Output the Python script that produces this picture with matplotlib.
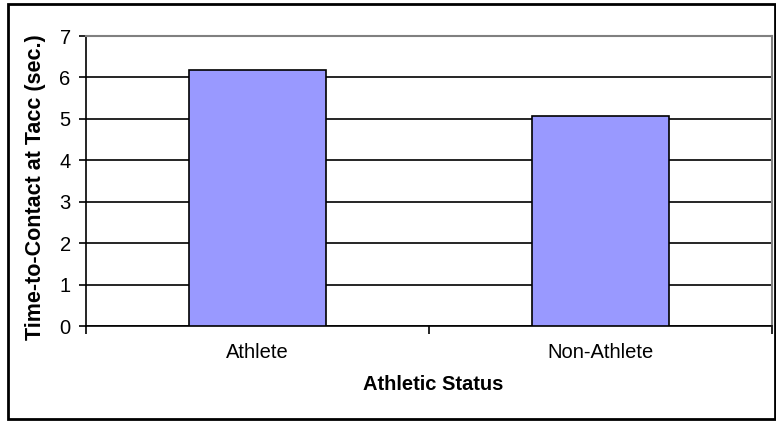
import matplotlib
matplotlib.use("Agg")
import matplotlib.pyplot as plt
import matplotlib.patches as mpatches

categories = ["Athlete", "Non-Athlete"]
values = [6.18, 5.07]
y_ticks = [0, 1, 2, 3, 4, 5, 6, 7]

plt.rcParams["font.family"] = ["Liberation Sans", "DejaVu Sans"]

W, H = 776, 421
fig = plt.figure(figsize=(W / 100, H / 100), dpi=100)

# outer chart border
fig.patches.append(mpatches.Rectangle((8 / W, 2 / H), 767 / W, 415 / H,
                                      transform=fig.transFigure, fill=False,
                                      edgecolor="black", linewidth=2))

ax = fig.add_axes([86 / W, (H - 326) / H, (772 - 86) / W, (326 - 36) / H])

x = list(range(len(categories)))
ax.bar(x, values, width=0.4, color="#9999FF", edgecolor="black",
       linewidth=1.2, zorder=3)

ax.set_xlim(-0.5, len(categories) - 0.5)
ax.set_ylim(0, 7)
ax.set_yticks(y_ticks)
ax.yaxis.grid(True, color="black", linewidth=1.2, zorder=0)
ax.set_axisbelow(True)

# category boundaries get the tick marks, labels sit in the middle
ax.set_xticks([-0.5, 0.5, 1.5])
ax.set_xticklabels([])
ax.set_xticks(x, minor=True)
ax.set_xticklabels(categories, minor=True)
ax.tick_params(axis="x", which="minor", length=0, labelsize=14.5, pad=12)
ax.tick_params(axis="x", which="major", length=6, width=1.2, direction="out")
ax.tick_params(axis="y", length=5, width=1.2, direction="out", labelsize=14.5,
               pad=6)

for side in ["left", "bottom"]:
    ax.spines[side].set_color("black")
    ax.spines[side].set_linewidth(1.2)
for side in ["top", "right"]:
    ax.spines[side].set_color("#808080")
    ax.spines[side].set_linewidth(1.5)

fig.text(433 / W, 1 - 385 / H, "Athletic Status", ha="center", va="center",
         fontsize=14.5, fontweight="bold")
fig.text(36 / W, 1 - 187 / H, "Time-to-Contact at Tacc (sec.)", ha="center",
         va="center", rotation=90, fontsize=15.5, fontweight="bold")

fig.savefig("out.png", dpi=100)
